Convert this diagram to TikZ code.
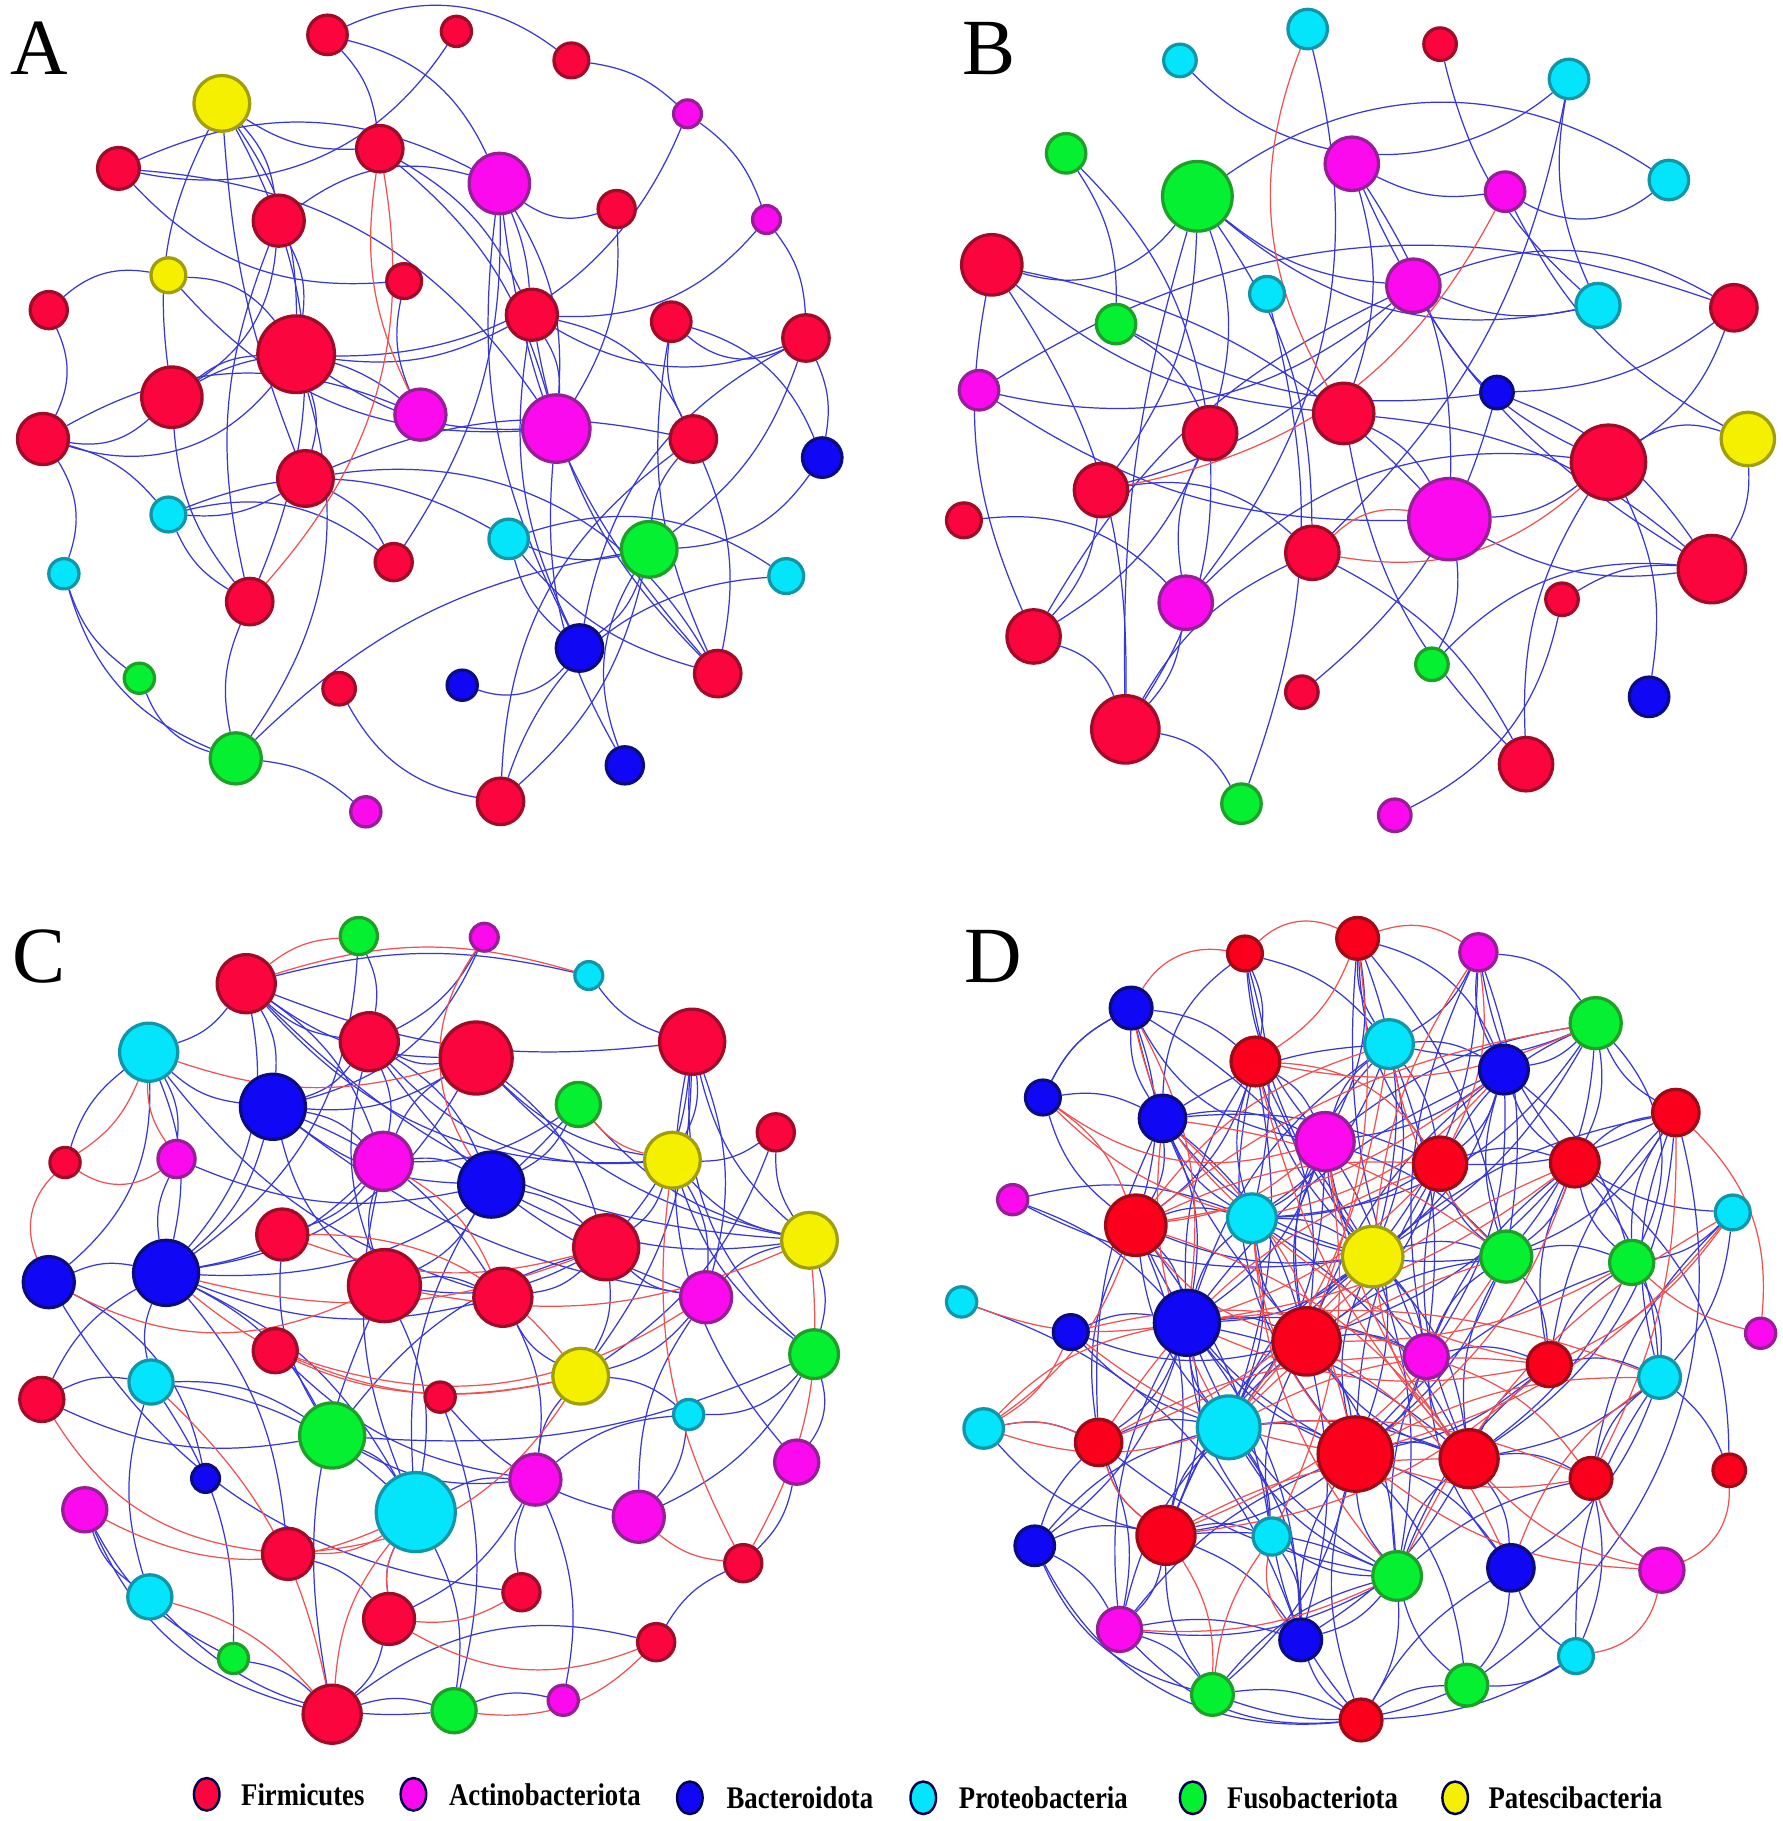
\documentclass[tikz,border=0pt]{standalone}
\usepackage{fontspec}
\setmainfont{Liberation Serif}
\usetikzlibrary{shapes.geometric}
\pgfdeclarelayer{background}
\pgfsetlayers{background,main}
\definecolor{fF}{RGB}{250,5,62}\definecolor{dF}{RGB}{160,12,40}
\definecolor{fR}{RGB}{250,0,28}\definecolor{dR}{RGB}{160,10,22}
\definecolor{fA}{RGB}{252,10,238}\definecolor{dA}{RGB}{150,30,150}
\definecolor{fB}{RGB}{16,8,245}\definecolor{dB}{RGB}{12,12,130}
\definecolor{fP}{RGB}{4,228,250}\definecolor{dP}{RGB}{16,150,168}
\definecolor{fG}{RGB}{4,240,48}\definecolor{dG}{RGB}{30,160,40}
\definecolor{fY}{RGB}{245,240,0}\definecolor{dY}{RGB}{160,158,10}
\definecolor{eB}{RGB}{55,55,215}\definecolor{eR}{RGB}{240,80,80}
\tikzset{
 nd/.style={circle, inner sep=0pt, line width=0.8pt},
 fir/.style={nd, fill=fF, draw=dF},
 frd/.style={nd, fill=fR, draw=dR},
 act/.style={nd, fill=fA, draw=dA},
 bac/.style={nd, fill=fB, draw=dB},
 pro/.style={nd, fill=fP, draw=dP},
 fus/.style={nd, fill=fG, draw=dG},
 pat/.style={nd, fill=fY, draw=dY},
 rad/.style={minimum size=#1*0.02cm},
 eb/.style={draw=eB, line width=0.3pt},
 er/.style={draw=eR, line width=0.3pt},
 panel/.style={anchor=base west, inner sep=0pt, font=\fontsize{19.5}{20}\selectfont},
 leg/.style={ellipse, draw=black!70!blue, line width=0.6pt, minimum width=0.22cm, minimum height=0.28cm, inner sep=0pt},
 legtext/.style={anchor=west, inner sep=0pt, font=\bfseries\fontsize{7.7}{9}\selectfont},
}
\newcommand{\mynode}[5]{\node[#2,rad=#5] (#1) at (#3,#4) {};}
\newcommand{\bluelinks}[1]{\foreach \u/\v/\b [evaluate=\b as \bb using 1.7*\b] in {#1} \draw[eb] (\u) to[bend left=\bb] (\v);}
\newcommand{\redlinks}[1]{\foreach \u/\v/\b [evaluate=\b as \bb using 1.7*\b] in {#1} \draw[er] (\u) to[bend left=\bb] (\v);}
\begin{document}
\begin{tikzpicture}[x=0.01cm,y=-0.01cm]
\useasboundingbox (0,0) rectangle (1535,1568);
\begin{pgfonlayer}{background}
\fill[white] (0,0) rectangle (1535,1568);
\end{pgfonlayer}
% ---------------- Panel A ----------------
\node[panel] (lA) at (8,64) {A};
\mynode{a1}{fir}{282}{30}{17}
\mynode{a2}{fir}{393}{27}{13}
\mynode{a3}{fir}{492}{52}{15}
\mynode{a4}{act}{592}{98}{12}
\mynode{a5}{pat}{191}{89}{24}
\mynode{a6}{fir}{102}{145}{18}
\mynode{a7}{fir}{327}{128}{20}
\mynode{a8}{act}{430}{158}{26}
\mynode{a9}{fir}{531}{180}{16}
\mynode{a10}{act}{660}{189}{12}
\mynode{a11}{fir}{240}{190}{22}
\mynode{a12}{pat}{145}{237}{15}
\mynode{a13}{fir}{348}{242}{15}
\mynode{a14}{fir}{42}{267}{16}
\mynode{a15}{fir}{458}{271}{22}
\mynode{a16}{fir}{578}{277}{17}
\mynode{a17}{fir}{694}{291}{20}
\mynode{a18}{fir}{255}{305}{33}
\mynode{a19}{fir}{148}{342}{26}
\mynode{a20}{act}{362}{357}{22}
\mynode{a21}{act}{479}{369}{29}
\mynode{a22}{fir}{37}{378}{22}
\mynode{a23}{fir}{597}{378}{20}
\mynode{a24}{bac}{708}{394}{17}
\mynode{a25}{fir}{263}{412}{24}
\mynode{a26}{pro}{145}{443}{15}
\mynode{a27}{pro}{438}{464}{17}
\mynode{a28}{fus}{559}{473}{24}
\mynode{a29}{fir}{339}{484}{16}
\mynode{a30}{pro}{55}{494}{13}
\mynode{a31}{fir}{215}{518}{20}
\mynode{a32}{pro}{677}{496}{15}
\mynode{a33}{bac}{499}{558}{20}
\mynode{a34}{fus}{120}{584}{13}
\mynode{a35}{fir}{292}{593}{14}
\mynode{a36}{bac}{398}{590}{13}
\mynode{a37}{fir}{618}{580}{20}
\mynode{a38}{fus}{203}{653}{22}
\mynode{a39}{bac}{538}{659}{16}
\mynode{a40}{act}{315}{699}{13}
\mynode{a41}{fir}{431}{690}{20}
\begin{pgfonlayer}{background}
\bluelinks{a1/a3/18, a3/a4/10, a4/a10/10, a10/a17/10, a17/a24/10, a2/a6/20, a1/a7/10, a1/a8/15,
 a5/a7/-10, a5/a11/10, a5/a18/10, a5/a31/15, a5/a25/-5, a5/a19/-10, a6/a13/-15, a6/a8/15, a6/a21/15,
 a7/a15/10, a7/a21/10, a8/a9/-15, a8/a15/5, a8/a21/10, a8/a33/-10, a8/a37/-10, a8/a29/10, a8/a11/-15,
 a10/a15/15, a4/a18/20, a12/a14/-15, a12/a18/15, a12/a21/-15, a14/a22/15, a11/a18/10, a11/a19/15,
 a11/a31/-10, a18/a19/-10, a18/a21/-10, a18/a15/-10, a18/a22/20, a18/a25/10, a18/a38/15, a19/a22/15,
 a19/a20/20, a19/a31/-10, a22/a26/10, a22/a30/15, a15/a21/10, a15/a23/15, a15/a33/-10, a15/a37/-10,
 a15/a17/-15, a16/a24/15, a16/a37/-10, a16/a23/-10, a16/a17/-20, a17/a33/-15, a17/a28/10, a23/a37/10,
 a23/a41/-15, a23/a25/-10, a23/a28/-10, a24/a28/15, a25/a26/10, a25/a29/10, a25/a37/20, a26/a29/15,
 a26/a27/15, a26/a31/-10, a27/a33/-10, a27/a32/15, a27/a37/-10, a27/a28/-10, a28/a33/10, a28/a39/-15,
 a28/a38/-10, a28/a41/10, a30/a38/-15, a30/a34/-10, a34/a38/-15, a31/a38/-10, a35/a41/-15, a36/a33/-20,
 a38/a40/10, a32/a41/-20, a21/a39/-10, a13/a20/-10, a22/a20/15, a9/a21/10}
\redlinks{a7/a20/-10, a7/a31/15}
\end{pgfonlayer}
% ---------------- Panel B ----------------
\node[panel] (lB) at (828,64) {B};
\mynode{b1}{pro}{1126}{25}{17}
\mynode{b2}{pro}{1016}{52}{14}
\mynode{b3}{fir}{1240}{38}{14}
\mynode{b4}{pro}{1351}{68}{17}
\mynode{b5}{fus}{918}{132}{17}
\mynode{b6}{act}{1164}{141}{23}
\mynode{b7}{fus}{1031}{169}{30}
\mynode{b8}{act}{1296}{165}{17}
\mynode{b9}{pro}{1437}{155}{17}
\mynode{b10}{fir}{854}{228}{26}
\mynode{b11}{pro}{1091}{253}{15}
\mynode{b12}{act}{1217}{246}{23}
\mynode{b13}{fus}{961}{279}{17}
\mynode{b14}{pro}{1376}{263}{19}
\mynode{b15}{fir}{1493}{265}{20}
\mynode{b16}{act}{843}{336}{17}
\mynode{b17}{bac}{1289}{338}{14}
\mynode{b18}{fir}{1042}{373}{23}
\mynode{b19}{fir}{1157}{356}{26}
\mynode{b20}{pat}{1505}{378}{23}
\mynode{b21}{fir}{1385}{398}{32}
\mynode{b22}{fir}{948}{422}{23}
\mynode{b23}{fir}{830}{448}{15}
\mynode{b24}{act}{1248}{447}{35}
\mynode{b25}{fir}{1130}{476}{23}
\mynode{b26}{fir}{1474}{490}{29}
\mynode{b27}{act}{1021}{519}{23}
\mynode{b28}{fir}{1345}{516}{14}
\mynode{b29}{fir}{890}{548}{23}
\mynode{b30}{fus}{1233}{572}{14}
\mynode{b31}{fir}{1121}{596}{14}
\mynode{b32}{bac}{1420}{600}{17}
\mynode{b33}{fir}{969}{628}{29}
\mynode{b34}{fir}{1314}{658}{23}
\mynode{b35}{fus}{1069}{692}{17}
\mynode{b36}{act}{1201}{702}{14}
\begin{pgfonlayer}{background}
\bluelinks{b2/b4/-25, b1/b27/15, b3/b14/-10, b4/b14/-10, b5/b13/10, b5/b18/10, b6/b8/-10, b6/b19/10,
 b6/b24/10, b6/b26/-10, b7/b10/20, b7/b12/-10, b7/b22/10, b7/b18/10, b7/b33/-5, b7/b25/10, b7/b14/-15,
 b8/b9/-20, b8/b20/-10, b7/b9/20, b10/b24/10, b10/b29/-10, b10/b33/10, b10/b19/-10, b11/b35/10,
 b12/b14/-10, b12/b15/15, b12/b22/10, b12/b21/-10, b12/b29/-10, b12/b16/15, b13/b17/-10, b13/b18/10,
 b4/b25/10, b15/b16/-15, b15/b17/10, b15/b21/10, b16/b24/-10, b17/b26/10, b17/b31/10, b18/b29/10,
 b18/b33/10, b18/b27/-10, b19/b24/10, b19/b26/10, b19/b34/-10, b20/b21/-15, b20/b26/10, b21/b24/10,
 b21/b34/-10, b21/b32/10, b21/b27/-15, b22/b25/15, b22/b29/10, b24/b30/10, b24/b26/-10, b25/b33/-10,
 b25/b34/10, b26/b28/-10, b26/b30/-15, b23/b27/15, b28/b36/15, b29/b33/15, b33/b35/15, b27/b33/10}
\redlinks{b1/b19/-15, b8/b22/15, b21/b25/15, b24/b25/-15}
\end{pgfonlayer}
% ---------------- Panel C ----------------
\node[panel] (lC) at (10,846) {C};
\mynode{c1}{fus}{309}{806}{16}
\mynode{c2}{act}{417}{807}{12}
\mynode{c3}{pro}{507}{840}{12}
\mynode{c4}{fir}{212}{847}{25}
\mynode{c5}{pro}{128}{906}{25}
\mynode{c6}{fir}{318}{897}{25}
\mynode{c7}{fir}{410}{911}{31}
\mynode{c8}{fir}{596}{897}{28}
\mynode{c9}{bac}{235}{953}{28}
\mynode{c10}{fus}{498}{951}{19}
\mynode{c11}{fir}{668}{975}{16}
\mynode{c12}{fir}{56}{1001}{13}
\mynode{c13}{act}{152}{998}{16}
\mynode{c14}{act}{330}{1000}{25}
\mynode{c15}{pat}{579}{999}{24}
\mynode{c16}{bac}{423}{1020}{28}
\mynode{c17}{pat}{697}{1068}{24}
\mynode{c18}{fir}{243}{1063}{22}
\mynode{c19}{fir}{522}{1074}{28}
\mynode{c20}{bac}{42}{1104}{22}
\mynode{c21}{bac}{143}{1096}{28}
\mynode{c22}{fir}{331}{1107}{31}
\mynode{c23}{fir}{433}{1117}{25}
\mynode{c24}{act}{608}{1117}{22}
\mynode{c25}{fir}{237}{1163}{19}
\mynode{c26}{fus}{701}{1166}{21}
\mynode{c27}{fir}{36}{1205}{19}
\mynode{c28}{pro}{130}{1190}{19}
\mynode{c29}{pat}{500}{1185}{24}
\mynode{c30}{fir}{379}{1203}{13}
\mynode{c31}{fus}{286}{1236}{28}
\mynode{c32}{pro}{593}{1218}{13}
\mynode{c33}{bac}{177}{1273}{12}
\mynode{c34}{pro}{358}{1302}{34}
\mynode{c35}{act}{686}{1259}{19}
\mynode{c36}{act}{461}{1274}{22}
\mynode{c37}{act}{73}{1300}{19}
\mynode{c38}{act}{550}{1306}{22}
\mynode{c39}{fir}{248}{1338}{22}
\mynode{c40}{fir}{640}{1346}{16}
\mynode{c41}{pro}{129}{1375}{19}
\mynode{c42}{fir}{449}{1371}{16}
\mynode{c43}{fir}{335}{1394}{22}
\mynode{c44}{fir}{565}{1414}{16}
\mynode{c45}{fus}{201}{1428}{13}
\mynode{c46}{fir}{286}{1476}{25}
\mynode{c47}{fus}{391}{1473}{19}
\mynode{c48}{act}{485}{1464}{13}
\begin{pgfonlayer}{background}
\bluelinks{c4/c6/-10, c4/c9/10, c4/c15/-15, c4/c7/-10, c4/c5/10, c4/c21/15, c4/c14/10, c1/c6/10,
 c1/c21/15, c5/c21/10, c5/c9/-10, c5/c23/-10, c5/c13/10, c5/c20/15, c6/c7/-10, c6/c9/10, c6/c14/10,
 c6/c22/-10, c6/c16/10, c6/c15/-15, c7/c9/10, c7/c14/-10, c7/c15/-10, c7/c19/10, c7/c21/15, c8/c15/10,
 c8/c17/-10, c8/c26/-15, c8/c24/10, c8/c19/10, c8/c35/-15, c9/c14/10, c9/c16/-10, c9/c21/10, c9/c22/-10,
 c9/c23/10, c10/c16/10, c10/c21/15, c10/c17/-10, c11/c17/-10, c11/c29/10, c11/c15/10, c13/c21/-10,
 c14/c16/10, c14/c21/10, c14/c22/-10, c14/c18/10, c15/c19/10, c15/c17/-10, c15/c26/-10, c15/c24/10,
 c16/c19/10, c16/c34/-10, c16/c22/10, c17/c26/10, c17/c24/-10, c19/c23/10, c19/c31/-10, c19/c29/10,
 c19/c24/-10, c20/c21/10, c20/c42/-15, c21/c31/10, c21/c28/-10, c21/c27/-10, c21/c39/10, c22/c23/10,
 c22/c34/10, c22/c46/-10, c23/c36/10, c23/c29/-10, c24/c29/10, c24/c38/-10, c26/c38/10, c26/c32/15,
 c27/c28/10, c27/c31/-10, c28/c31/10, c28/c41/-10, c28/c45/10, c29/c32/10, c29/c36/-10, c31/c34/10,
 c31/c36/-10, c32/c38/10, c32/c36/-10, c33/c20/-15, c34/c36/10, c34/c43/-10, c34/c47/10, c35/c40/10,
 c35/c26/-15, c36/c43/10, c36/c48/10, c37/c45/-10, c37/c46/-15, c37/c41/-10, c39/c43/10, c41/c47/-15,
 c42/c36/10, c43/c46/10, c44/c40/10, c44/c46/-15, c46/c47/10, c47/c48/10, c45/c46/10, c30/c38/-10,
 c30/c47/10, c25/c36/-10, c3/c8/-10, c2/c9/15, c12/c5/10, c13/c16/-10,
 c4/c17/-12, c4/c8/-8, c6/c24/-10, c7/c17/-10, c9/c24/-8, c16/c17/-10, c21/c23/-10, c21/c34/10,
 c22/c19/-10, c28/c34/10, c31/c26/-8, c18/c31/-10, c14/c34/-10, c8/c29/10, c10/c14/10, c2/c6/10, c3/c4/-8}
\redlinks{c4/c1/10, c4/c3/10, c5/c12/10, c5/c7/-10, c12/c20/-20, c12/c13/-20, c2/c16/-20,
 c20/c22/-15, c21/c29/-15, c18/c19/-10, c18/c29/15, c10/c15/-10, c15/c40/-10, c27/c39/-15, c28/c46/10,
 c41/c46/10, c37/c34/-15, c39/c34/-10, c43/c34/10, c43/c44/-15, c42/c43/10, c44/c47/15, c40/c38/10,
 c40/c17/-10, c46/c34/10, c25/c29/-10, c25/c24/-15, c14/c23/10, c39/c29/-15, c21/c19/-10, c22/c17/-10,
 c13/c5/10}
\end{pgfonlayer}
% ---------------- Panel D ----------------
\node[panel] (lD) at (830,846) {D};
\mynode{d1}{frd}{1072}{821}{15}
\mynode{d2}{frd}{1169}{808}{18}
\mynode{d3}{act}{1273}{820}{16}
\mynode{d4}{bac}{974}{868}{18}
\mynode{d5}{pro}{1196}{899}{21}
\mynode{d6}{fus}{1374}{881}{22}
\mynode{d7}{frd}{1081}{914}{21}
\mynode{d8}{bac}{1295}{921}{21}
\mynode{d9}{bac}{898}{945}{15}
\mynode{d10}{bac}{1001}{963}{20}
\mynode{d11}{frd}{1443}{958}{20}
\mynode{d12}{act}{1141}{983}{25}
\mynode{d13}{frd}{1240}{1002}{23}
\mynode{d14}{frd}{1356}{1001}{21}
\mynode{d15}{act}{872}{1033}{13}
\mynode{d16}{frd}{978}{1055}{26}
\mynode{d17}{pro}{1078}{1049}{21}
\mynode{d18}{pro}{1492}{1044}{15}
\mynode{d19}{pat}{1182}{1082}{26}
\mynode{d20}{fus}{1297}{1082}{22}
\mynode{d21}{fus}{1405}{1087}{19}
\mynode{d22}{pro}{828}{1121}{13}
\mynode{d23}{bac}{922}{1147}{15}
\mynode{d24}{bac}{1022}{1139}{28}
\mynode{d25}{frd}{1125}{1155}{29}
\mynode{d26}{act}{1228}{1168}{19}
\mynode{d27}{frd}{1334}{1175}{19}
\mynode{d28}{act}{1516}{1148}{13}
\mynode{d29}{pro}{1429}{1186}{18}
\mynode{d30}{pro}{847}{1230}{17}
\mynode{d31}{frd}{946}{1242}{20}
\mynode{d32}{pro}{1058}{1229}{27}
\mynode{d33}{frd}{1167}{1252}{32}
\mynode{d34}{frd}{1265}{1256}{25}
\mynode{d35}{frd}{1370}{1273}{18}
\mynode{d36}{frd}{1489}{1266}{14}
\mynode{d37}{frd}{1004}{1322}{25}
\mynode{d38}{pro}{1095}{1323}{16}
\mynode{d39}{bac}{891}{1331}{17}
\mynode{d40}{fus}{1203}{1357}{21}
\mynode{d41}{bac}{1301}{1350}{20}
\mynode{d42}{act}{1431}{1352}{19}
\mynode{d43}{act}{964}{1403}{19}
\mynode{d44}{bac}{1120}{1412}{18}
\mynode{d45}{pro}{1357}{1426}{15}
\mynode{d46}{fus}{1044}{1459}{18}
\mynode{d47}{fus}{1263}{1451}{18}
\mynode{d48}{frd}{1172}{1481}{18}
\begin{pgfonlayer}{background}
\bluelinks{d1/d7/10, d1/d12/-10, d1/d5/10, d2/d5/-10, d2/d12/10, d2/d13/-10, d2/d19/10, d2/d8/15,
 d3/d5/10, d3/d8/-10, d3/d19/10, d3/d26/-10, d4/d7/10, d4/d10/-10, d4/d16/10, d4/d12/-15, d4/d9/-10,
 d5/d8/10, d5/d12/-10, d5/d17/10, d5/d24/-10, d5/d19/10, d5/d6/-10, d6/d8/10, d6/d13/-10,
 d6/d14/10, d6/d11/-10, d6/d20/10, d6/d17/15, d7/d12/10, d7/d17/-10, d7/d16/10, d7/d24/-10, d7/d25/10,
 d8/d13/10, d8/d14/-10, d8/d19/10, d8/d20/-10, d8/d21/10, d9/d10/10, d9/d16/-10, d10/d12/10,
 d10/d17/-10, d10/d16/10, d10/d19/-10, d10/d24/10, d11/d14/-10, d11/d20/10, d11/d21/-10, d11/d34/15,
 d11/d27/-10, d12/d17/10, d12/d19/-10, d12/d24/10, d12/d25/-10, d12/d32/10, d13/d19/10, d13/d20/-10,
 d13/d25/10, d13/d34/-10, d13/d14/10, d14/d20/10, d14/d21/-10, d14/d29/10, d14/d27/-10, d15/d19/-10,
 d16/d24/10, d16/d32/-10, d16/d17/10, d16/d31/-10, d16/d37/10, d17/d19/10, d17/d24/-10, d17/d32/10,
 d17/d25/-10, d18/d29/10, d18/d35/-10, d19/d20/10, d19/d25/-10, d19/d26/10, d19/d32/-10, d19/d24/10,
 d19/d33/-10, d19/d34/10, d20/d21/10, d20/d26/-10, d20/d27/10, d20/d34/-10, d21/d29/10, d21/d27/-10,
 d22/d44/15, d23/d24/10, d23/d25/-10, d24/d25/10, d24/d32/-10, d24/d37/10, d24/d38/-10, d24/d31/10,
 d24/d40/-10, d24/d44/10, d25/d26/10, d25/d32/-10, d25/d33/10, d25/d34/-10, d25/d40/10, d25/d38/-10,
 d26/d33/10, d26/d34/-10, d26/d27/10, d27/d29/10, d27/d34/-10, d29/d41/10, d29/d35/-10, d30/d31/10,
 d31/d32/10, d31/d37/-10, d31/d43/10, d32/d33/10, d32/d37/-10, d32/d38/10, d32/d40/-10, d32/d44/10,
 d33/d34/10, d33/d40/-10, d33/d41/10, d33/d44/-10, d33/d47/10, d33/d48/-10, d34/d35/10, d34/d40/-10,
 d34/d41/10, d35/d45/10, d37/d38/10, d37/d39/-10, d37/d43/10, d37/d46/-10, d37/d44/10, d38/d40/-10,
 d38/d44/10, d39/d43/10, d39/d46/-15, d40/d48/10, d40/d47/-10, d40/d44/10, d41/d45/-10, d41/d47/10,
 d43/d46/10, d43/d48/-15, d44/d48/-10, d46/d48/10, d47/d48/-10, d45/d47/10, d42/d35/10, d29/d45/-10,
 d18/d21/10, d11/d29/-10, d47/d11/-20, d46/d40/10, d43/d40/-10, d39/d48/-20, d9/d4/10, d15/d17/10,
 d39/d32/10, d39/d24/-10, d43/d24/10, d46/d33/-10, d30/d37/-10, d41/d26/10, d12/d33/15, d5/d25/-15,
 d8/d26/10, d7/d33/-15, d1/d10/-15, d3/d6/15, d6/d21/20, d14/d36/15, d10/d25/10, d16/d33/-10,
 d1/d17/8, d1/d19/-8, d2/d20/8, d2/d26/-8, d3/d20/8, d3/d14/-8, d4/d19/8, d4/d25/-8, d5/d13/8,
 d5/d10/-8, d5/d26/8, d6/d12/-8, d6/d19/8, d7/d19/-8, d7/d32/8, d8/d25/-8, d8/d12/8, d8/d24/-8,
 d10/d13/8, d10/d31/-8, d11/d13/8, d11/d19/-8, d12/d20/8, d12/d26/-8, d13/d17/8, d13/d33/-8,
 d14/d25/8, d14/d26/-8, d15/d24/8, d16/d19/-8, d16/d38/8, d17/d20/-8, d17/d34/8, d19/d37/-8,
 d19/d40/8, d20/d25/-8, d20/d33/8, d21/d33/-8, d21/d34/8, d23/d32/-8, d24/d26/8, d24/d33/-8,
 d24/d34/8, d25/d37/-8, d25/d44/8, d26/d40/-8, d27/d33/8, d27/d40/-8, d29/d34/8, d31/d40/-8,
 d32/d34/8, d32/d43/-8, d33/d37/8, d33/d43/-8, d34/d44/8, d35/d40/-8, d37/d40/8, d38/d48/-8,
 d39/d31/8, d41/d48/-8, d43/d44/8, d46/d47/-12, d45/d48/8, d36/d29/-8, d18/d14/8}
\redlinks{d1/d2/20, d2/d3/15, d2/d7/10, d3/d13/10, d4/d17/-10, d4/d24/10, d9/d16/10,
 d9/d12/-15, d5/d16/-10, d10/d33/10, d10/d32/-10, d12/d16/10, d13/d31/-10, d14/d33/10,
 d16/d25/-10, d16/d34/10, d11/d28/15, d18/d33/10, d18/d40/-10, d30/d16/-10, d30/d24/10, d30/d23/-10,
 d30/d31/10, d30/d32/-10, d23/d26/10, d24/d27/-10, d27/d37/10, d31/d37/-10, d32/d27/10, d34/d42/-10,
 d36/d42/20, d35/d42/-10, d41/d29/10, d42/d33/10, d45/d42/-20, d26/d35/10, d38/d44/-15, d37/d46/10,
 d19/d34/-10, d20/d37/10, d17/d40/-10, d25/d41/10, d6/d7/10, d5/d20/-10, d8/d17/10, d4/d1/20,
 d7/d13/15, d12/d38/10, d17/d33/-10,
 d2/d25/8, d3/d19/-8, d5/d32/8, d7/d34/-8, d8/d16/8, d9/d17/-8, d10/d20/8, d12/d34/-8, d13/d24/8,
 d13/d16/-8, d14/d24/8, d17/d27/-8, d19/d31/8, d20/d32/-8, d21/d25/8, d23/d33/-8, d24/d29/8,
 d26/d31/-8, d28/d21/8, d29/d33/-8, d32/d35/8, d33/d35/-8, d37/d34/8, d38/d46/-8, d40/d43/8,
 d22/d24/-8, d18/d27/8, d14/d32/-8, d11/d35/8, d6/d16/-8}
\end{pgfonlayer}
% ---------------- Legend ----------------
\node[leg, fill=fF] (k1) at (178,1545) {};
\node[legtext] (t1) at (207,1545) {\scalebox{0.85}[1]{Firmicutes}};
\node[leg, fill=fA] (k2) at (356,1545) {};
\node[legtext] (t2) at (386,1545) {\scalebox{0.85}[1]{Actinobacteriota}};
\node[leg, fill=fB] (k3) at (594,1548) {};
\node[legtext] (t3) at (625,1548) {\scalebox{0.85}[1]{Bacteroidota}};
\node[leg, fill=fP] (k4) at (795,1548) {};
\node[legtext] (t4) at (825,1548) {\scalebox{0.85}[1]{Proteobacteria}};
\node[leg, fill=fG] (k5) at (1027,1548) {};
\node[legtext] (t5) at (1056,1548) {\scalebox{0.85}[1]{Fusobacteriota}};
\node[leg, fill=fY] (k6) at (1253,1548) {};
\node[legtext] (t6) at (1281,1548) {\scalebox{0.85}[1]{Patescibacteria}};
\end{tikzpicture}
\end{document}
